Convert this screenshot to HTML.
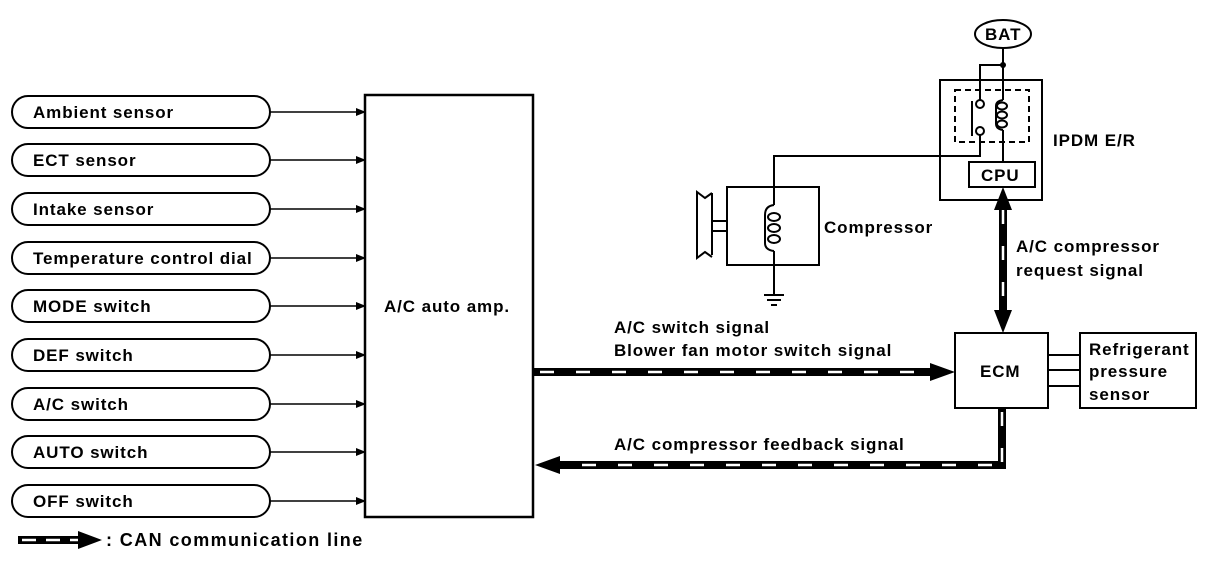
<!DOCTYPE html>
<html><head><meta charset="utf-8"><style>
html,body{margin:0;padding:0;background:#fff;}
svg{display:block;}
text{font-family:"Liberation Sans",Arial,sans-serif;font-size:17px;font-weight:bold;letter-spacing:0.9px;fill:#000;}
</style></head><body>
<svg width="1216" height="582" viewBox="0 0 1216 582" xmlns="http://www.w3.org/2000/svg">
<defs>
<marker id="a" markerWidth="10" markerHeight="8" refX="9" refY="4" orient="auto" markerUnits="userSpaceOnUse"><path d="M0,0 L10,4 L0,8 Z" fill="#000"/></marker>
</defs>
<g fill="none" stroke="#000" stroke-width="2">
<rect x="12" y="96" width="258" height="32" rx="16"/>
<rect x="12" y="144" width="258" height="32" rx="16"/>
<rect x="12" y="193" width="258" height="32" rx="16"/>
<rect x="12" y="242" width="258" height="32" rx="16"/>
<rect x="12" y="290" width="258" height="32" rx="16"/>
<rect x="12" y="339" width="258" height="32" rx="16"/>
<rect x="12" y="388" width="258" height="32" rx="16"/>
<rect x="12" y="436" width="258" height="32" rx="16"/>
<rect x="12" y="485" width="258" height="32" rx="16"/>
</g>
<g stroke="#000" stroke-width="1.5" marker-end="url(#a)">
<line x1="270" y1="112" x2="365" y2="112"/>
<line x1="270" y1="160" x2="365" y2="160"/>
<line x1="270" y1="209" x2="365" y2="209"/>
<line x1="270" y1="258" x2="365" y2="258"/>
<line x1="270" y1="306" x2="365" y2="306"/>
<line x1="270" y1="355" x2="365" y2="355"/>
<line x1="270" y1="404" x2="365" y2="404"/>
<line x1="270" y1="452" x2="365" y2="452"/>
<line x1="270" y1="501" x2="365" y2="501"/>
</g>
<text x="33" y="118">Ambient sensor</text>
<text x="33" y="166">ECT sensor</text>
<text x="33" y="215">Intake sensor</text>
<text x="33" y="264">Temperature control dial</text>
<text x="33" y="312">MODE switch</text>
<text x="33" y="361">DEF switch</text>
<text x="33" y="410">A/C switch</text>
<text x="33" y="458">AUTO switch</text>
<text x="33" y="507">OFF switch</text>

<rect x="365" y="95" width="168" height="422" fill="none" stroke="#000" stroke-width="2.5"/>
<text x="384" y="312">A/C auto amp.</text>

<line x1="533" y1="372" x2="935" y2="372" stroke="#000" stroke-width="8"/>
<line x1="540" y1="372" x2="935" y2="372" stroke="#fff" stroke-width="2.5" stroke-dasharray="14,22"/>
<path d="M930,363 L955,372 L930,381 Z" fill="#000"/>
<text x="614" y="333">A/C switch signal</text>
<text x="614" y="356">Blower fan motor switch signal</text>

<polyline points="1002,408 1002,465 555,465" fill="none" stroke="#000" stroke-width="8"/>
<line x1="1002" y1="412" x2="1002" y2="462" stroke="#fff" stroke-width="2.5" stroke-dasharray="14,22"/>
<line x1="992" y1="465" x2="560" y2="465" stroke="#fff" stroke-width="2.5" stroke-dasharray="14,22"/>
<path d="M560,456 L535,465 L560,474 Z" fill="#000"/>
<text x="614" y="450">A/C compressor feedback signal</text>

<rect x="955" y="333" width="93" height="75" fill="none" stroke="#000" stroke-width="2"/>
<text x="980" y="377">ECM</text>
<rect x="1080" y="333" width="116" height="75" fill="none" stroke="#000" stroke-width="2"/>
<g stroke="#000" stroke-width="2"><line x1="1048" y1="355" x2="1080" y2="355"/><line x1="1048" y1="370" x2="1080" y2="370"/><line x1="1048" y1="386" x2="1080" y2="386"/></g>
<text x="1089" y="355">Refrigerant</text>
<text x="1089" y="377">pressure</text>
<text x="1089" y="400">sensor</text>

<line x1="1003" y1="205" x2="1003" y2="315" stroke="#000" stroke-width="8"/>
<line x1="1003" y1="210" x2="1003" y2="310" stroke="#fff" stroke-width="2.5" stroke-dasharray="14,22"/>
<path d="M994,210 L1003,187 L1012,210 Z" fill="#000"/>
<path d="M994,310 L1003,333 L1012,310 Z" fill="#000"/>
<text x="1016" y="252">A/C compressor</text>
<text x="1016" y="276">request signal</text>

<rect x="940" y="80" width="102" height="120" fill="none" stroke="#000" stroke-width="2"/>
<rect x="955" y="90" width="74" height="52" fill="none" stroke="#000" stroke-width="2" stroke-dasharray="6,4"/>
<rect x="969" y="162" width="66" height="25" fill="none" stroke="#000" stroke-width="2"/>
<text x="981" y="181">CPU</text>
<text x="1053" y="146">IPDM E/R</text>
<ellipse cx="1003" cy="34" rx="28" ry="14" fill="none" stroke="#000" stroke-width="2"/>
<text x="985" y="40">BAT</text>
<g fill="none" stroke="#000" stroke-width="2">
<line x1="1003" y1="48" x2="1003" y2="100"/>
<polyline points="1003,65 980,65 980,100"/>
<circle cx="980" cy="104" r="4"/>
<circle cx="980" cy="131" r="4"/>
<line x1="972" y1="101" x2="972" y2="136"/>
<polyline points="980,135 980,156 774,156 774,205"/>
<path d="M1003,100 Q996,101 996,106 M1003,130 Q996,129 996,124 L996,106"/>
<ellipse cx="1002" cy="106" rx="5" ry="3.5"/><ellipse cx="1002" cy="115" rx="5" ry="3.5"/><ellipse cx="1002" cy="124" rx="5" ry="3.5"/>
<line x1="1003" y1="130" x2="1003" y2="162"/>
</g>
<circle cx="1003" cy="65" r="3" fill="#000"/>

<g fill="none" stroke="#000" stroke-width="2">
<rect x="727" y="187" width="92" height="78"/>
<path d="M774,205 Q765,206 765,215 L765,243 Q765,250 774,251"/>
<ellipse cx="774" cy="217" rx="6" ry="4"/><ellipse cx="774" cy="228" rx="6" ry="4"/><ellipse cx="774" cy="239" rx="6" ry="4"/>
<line x1="774" y1="251" x2="774" y2="295"/>
<line x1="764" y1="295" x2="784" y2="295"/><line x1="767" y1="300" x2="781" y2="300"/><line x1="771" y1="305" x2="777" y2="305"/>
<polyline points="712,193 712,255"/>
<polyline points="712,193 705,198 697,192 697,225 697,258 705,252 712,257"/>
<line x1="712" y1="221" x2="727" y2="221"/><line x1="712" y1="231" x2="727" y2="231"/>
</g>
<text x="824" y="233">Compressor</text>

<line x1="18" y1="540" x2="80" y2="540" stroke="#000" stroke-width="8"/>
<line x1="22" y1="540" x2="80" y2="540" stroke="#fff" stroke-width="2.5" stroke-dasharray="14,10"/>
<path d="M78,531 L102,540 L78,549 Z" fill="#000"/>
<text x="106" y="546" style="font-size:18px;letter-spacing:1.4px">: CAN communication line</text>
</svg>
</body></html>
